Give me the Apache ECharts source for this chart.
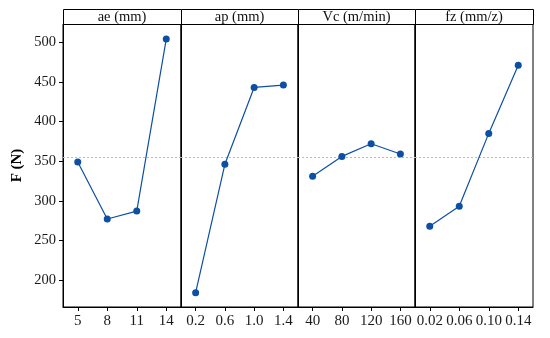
<!DOCTYPE html>
<html>
<head>
<meta charset="utf-8">
<script src="https://cdn.jsdelivr.net/npm/echarts@6/dist/echarts.min.js"></script>
<style>html,body{margin:0;padding:0;background:#fff;}#c{width:550px;height:338px;}</style>
</head>
<body>
<div id="c"></div>
<script>
const panelTitles = ['ae (mm)', 'ap (mm)', 'Vc (m/min)', 'fz (mm/z)'];
const aeLevels = ['5', '8', '11', '14'];
const apLevels = ['0.2', '0.6', '1.0', '1.4'];
const vcLevels = ['40', '80', '120', '160'];
const fzLevels = ['0.02', '0.06', '0.10', '0.14'];
const aeMeans = [349, 277, 287, 504];
const apMeans = [184, 346, 443, 446];
const vcMeans = [331, 356, 372, 359];
const fzMeans = [268, 293, 385, 471];
const grandMean = 354.5;
const yTicks = [200, 250, 300, 350, 400, 450, 500];
const yMin = 166, yMax = 523;
const yTitle = 'F (N)';

const levels = [aeLevels, apLevels, vcLevels, fzLevels];
const means = [aeMeans, apMeans, vcMeans, fzMeans];

const FONT = '"Liberation Serif", "Times New Roman", serif';
const EDGES = [63, 181, 298, 415, 533];
const TOP = 24, HEADTOP = 9, BOT = 31;

const grid = [], xAxis = [], yAxis = [], series = [], graphic = [];
for (let i = 0; i < 4; i++) {
  const left = EDGES[i], w = EDGES[i + 1] - EDGES[i];
  grid.push({left: left, width: w, top: TOP, bottom: BOT, show: true, borderColor: '#000', borderWidth: 1, backgroundColor: 'transparent'});
  xAxis.push({
    type: 'category', gridIndex: i, data: levels[i], boundaryGap: true,
    axisLine: {show: true, lineStyle: {color: '#000', width: 1}},
    axisTick: {show: true, alignWithLabel: true, length: 4, inside: false, lineStyle: {color: '#000'}},
    axisLabel: {interval: 0, fontFamily: FONT, fontSize: 15, color: '#1a1a1a', margin: 7, hideOverlap: false},
    splitLine: {show: false}
  });
  yAxis.push({
    type: 'value', gridIndex: i, min: yMin, max: yMax,
    name: i === 0 ? yTitle : '', nameLocation: 'middle', nameGap: 38,
    nameTextStyle: {fontFamily: FONT, fontSize: 15, fontWeight: 'bold', color: '#000'},
    axisLine: {show: true, lineStyle: {color: '#000', width: 1}},
    axisTick: {show: i === 0, length: 4, customValues: yTicks, lineStyle: {color: '#000'}},
    axisLabel: {show: i === 0, customValues: yTicks, fontFamily: FONT, fontSize: 14.5, color: '#1a1a1a', margin: 7},
    splitLine: {show: false}
  });
  series.push({
    type: 'line', xAxisIndex: i, yAxisIndex: i, data: means[i],
    symbol: 'circle', symbolSize: 7,
    itemStyle: {color: '#0c4fa3'},
    lineStyle: {color: '#0c4fa3', width: 1.2},
    z: 3,
    markLine: {
      silent: true, symbol: 'none', label: {show: false},
      lineStyle: {color: '#bbb', type: [2, 2], width: 1},
      data: [{yAxis: grandMean}], z: 1
    },
    animation: false
  });
  graphic.push({
    type: 'rect', left: left, top: HEADTOP,
    shape: {width: w, height: TOP - HEADTOP},
    style: {fill: '#fff', stroke: '#000', lineWidth: 1}
  });
  graphic.push({
    type: 'text', x: left + w / 2, y: (HEADTOP + TOP) / 2 + 0.5,
    style: {text: panelTitles[i], font: '14.5px ' + FONT, fill: '#111', textAlign: 'center', textVerticalAlign: 'middle'}
  });
}

const chart = echarts.init(document.getElementById('c'), null, {renderer: 'canvas'});
chart.setOption({
  animation: false,
  backgroundColor: '#fff',
  grid, xAxis, yAxis, series, graphic
});
</script>
</body>
</html>
